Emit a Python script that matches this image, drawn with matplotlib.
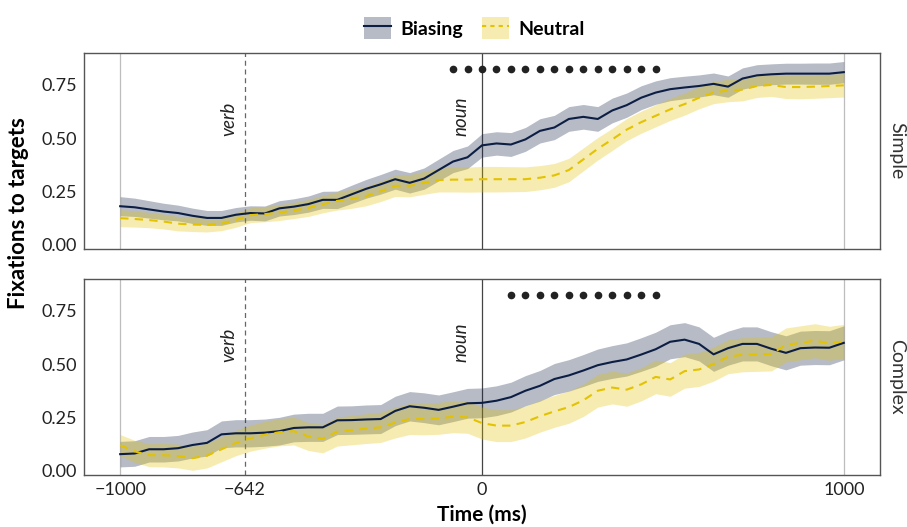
import numpy as np
import matplotlib
matplotlib.use("Agg")
from matplotlib import pyplot as plt
from matplotlib.patches import Patch
from matplotlib.lines import Line2D

plt.rcParams['font.family'] = ['Lato', 'DejaVu Sans']

# time grid (ms), 40 ms bins
time = np.arange(-1000, 1001, 40)

# Simple sentences
bias_simple = [0.18, 0.175, 0.165, 0.155, 0.148, 0.135, 0.125, 0.125, 0.14, 0.148,
               0.146, 0.17, 0.178, 0.19, 0.21, 0.21, 0.236, 0.262, 0.283, 0.307,
               0.29, 0.31, 0.35, 0.39, 0.41, 0.466, 0.475, 0.47, 0.494, 0.534,
               0.55, 0.59, 0.6, 0.59, 0.63, 0.655, 0.69, 0.714, 0.73, 0.738,
               0.745, 0.755, 0.742, 0.78, 0.795, 0.8, 0.803, 0.803, 0.803, 0.803, 0.81]
bias_simple_se = [0.045, 0.043, 0.041, 0.039, 0.037, 0.036, 0.035, 0.035, 0.034, 0.034,
                  0.035, 0.036, 0.037, 0.038, 0.040, 0.041, 0.043, 0.044, 0.046, 0.047,
                  0.048, 0.050, 0.051, 0.052, 0.053, 0.055, 0.055, 0.056, 0.056, 0.057,
                  0.057, 0.058, 0.058, 0.058, 0.058, 0.057, 0.056, 0.055, 0.054, 0.053,
                  0.052, 0.051, 0.050, 0.050, 0.050, 0.049, 0.049, 0.049, 0.050, 0.050, 0.050]
neutral_simple = [0.124, 0.12, 0.115, 0.108, 0.098, 0.094, 0.092, 0.098, 0.115, 0.138,
                  0.143, 0.15, 0.16, 0.172, 0.19, 0.205, 0.215, 0.228, 0.25, 0.276,
                  0.276, 0.29, 0.303, 0.305, 0.305, 0.307, 0.307, 0.307, 0.307, 0.314,
                  0.325, 0.35, 0.40, 0.45, 0.494, 0.54, 0.575, 0.605, 0.635, 0.66,
                  0.69, 0.714, 0.724, 0.728, 0.745, 0.75, 0.74, 0.74, 0.742, 0.745, 0.748]
neutral_simple_se = [0.040, 0.038, 0.036, 0.035, 0.034, 0.033, 0.033, 0.033, 0.034, 0.035,
                     0.036, 0.037, 0.038, 0.040, 0.041, 0.043, 0.045, 0.046, 0.048, 0.050,
                     0.052, 0.054, 0.056, 0.058, 0.059, 0.060, 0.060, 0.059, 0.058, 0.057,
                     0.056, 0.055, 0.054, 0.053, 0.052, 0.052, 0.052, 0.052, 0.052, 0.052,
                     0.052, 0.052, 0.053, 0.053, 0.054, 0.054, 0.054, 0.055, 0.055, 0.055, 0.055]

# Complex sentences
bias_complex = [0.077, 0.08, 0.1, 0.1, 0.105, 0.12, 0.13, 0.17, 0.175, 0.175,
                0.178, 0.185, 0.2, 0.203, 0.203, 0.236, 0.237, 0.24, 0.242, 0.28,
                0.302, 0.295, 0.285, 0.3, 0.316, 0.318, 0.328, 0.345, 0.375, 0.398,
                0.43, 0.447, 0.47, 0.495, 0.51, 0.522, 0.545, 0.57, 0.605, 0.615,
                0.595, 0.546, 0.575, 0.595, 0.595, 0.572, 0.553, 0.575, 0.578, 0.577, 0.60]
bias_complex_se = [0.060, 0.060, 0.060, 0.060, 0.060, 0.061, 0.062, 0.063, 0.064, 0.064,
                   0.064, 0.065, 0.065, 0.066, 0.066, 0.067, 0.067, 0.068, 0.068, 0.069,
                   0.069, 0.070, 0.070, 0.070, 0.070, 0.070, 0.070, 0.070, 0.071, 0.072,
                   0.073, 0.074, 0.075, 0.076, 0.077, 0.078, 0.079, 0.080, 0.080, 0.080,
                   0.080, 0.080, 0.080, 0.080, 0.080, 0.080, 0.080, 0.080, 0.080, 0.080, 0.080]
neutral_complex = [0.119, 0.09, 0.072, 0.072, 0.068, 0.058, 0.07, 0.1, 0.13, 0.152,
                   0.168, 0.18, 0.185, 0.16, 0.15, 0.183, 0.19, 0.197, 0.203, 0.225,
                   0.242, 0.242, 0.245, 0.253, 0.25, 0.223, 0.211, 0.211, 0.228, 0.255,
                   0.278, 0.298, 0.33, 0.375, 0.39, 0.38, 0.405, 0.44, 0.428, 0.467,
                   0.475, 0.5, 0.535, 0.544, 0.546, 0.548, 0.59, 0.60, 0.61, 0.598, 0.607]
neutral_complex_se = [0.050, 0.052, 0.054, 0.055, 0.056, 0.057, 0.058, 0.059, 0.060, 0.061,
                      0.063, 0.064, 0.065, 0.066, 0.067, 0.068, 0.069, 0.070, 0.071, 0.072,
                      0.073, 0.074, 0.075, 0.075, 0.075, 0.075, 0.075, 0.075, 0.075, 0.075,
                      0.075, 0.076, 0.076, 0.077, 0.077, 0.078, 0.078, 0.079, 0.079, 0.080,
                      0.080, 0.080, 0.080, 0.080, 0.080, 0.080, 0.080, 0.080, 0.080, 0.080, 0.080]

# time bins with a significant difference
sig_simple = [-80, -40, 0, 40, 80, 120, 160, 200, 240, 280, 320, 360, 400, 440, 480]
sig_complex = [80, 120, 160, 200, 240, 280, 320, 360, 400, 440, 480]
sig_y = 0.825

panels = ['Simple', 'Complex']
verb_pos = -655   # where the dashed verb line sits in the picture
xticks = [-1000, verb_pos, 0, 1000]
xticklabels = ['\u22121000', '\u2212642', '0', '1000']
yticks = [0.0, 0.25, 0.5, 0.75]

NAVY = '#0d1e44'
GOLD = '#e3c200'

data = {
    'Simple': (bias_simple, bias_simple_se, neutral_simple, neutral_simple_se, sig_simple),
    'Complex': (bias_complex, bias_complex_se, neutral_complex, neutral_complex_se, sig_complex),
}

fig = plt.figure(figsize=(9.07, 5.27), dpi=100)
W, H = 907, 527
left, right = 84 / W, 880 / W
ph = 196 / H
axes = [fig.add_axes([left, 1 - 249 / H, right - left, ph]),
        fig.add_axes([left, 1 - 475 / H, right - left, ph])]

for ax, name in zip(axes, panels):
    b, bse, n, nse, sig = data[name]
    b, bse, n, nse = map(np.array, (b, bse, n, nse))

    ax.axvline(-1000, color='#bdbdbd', lw=0.9, zorder=1)
    ax.axvline(1000, color='#bdbdbd', lw=0.9, zorder=1)
    ax.axvline(verb_pos, color='#666666', lw=0.9, ls=(0, (4, 3)), zorder=1)
    ax.axvline(0, color='#444444', lw=0.9, zorder=1)

    ax.fill_between(time, b - bse, b + bse, color=NAVY, alpha=0.3, lw=0, zorder=2)
    ax.fill_between(time, n - nse, n + nse, color=GOLD, alpha=0.3, lw=0, zorder=2)
    ax.plot(time, b, color=NAVY, lw=1.5, zorder=3)
    ax.plot(time, n, color=GOLD, lw=1.5, ls=(0, (4, 3)), zorder=3)

    ax.plot(sig, [sig_y] * len(sig), 'o', color='#222222', ms=4.5, zorder=4)

    ax.text(verb_pos - 22, 0.51, 'verb', rotation=90, style='italic', fontsize=13.5,
            color='#222222', ha='right', va='bottom')
    ax.text(-35, 0.51, 'noun', rotation=90, style='italic', fontsize=13.5,
            color='#222222', ha='right', va='bottom')

    ax.text(1.01, 0.5, name, transform=ax.transAxes, rotation=-90, fontsize=14,
            color='#333333', ha='left', va='center')

    ax.set_xlim(-1100, 1100)
    ax.set_ylim(-0.021, 0.90)
    ax.set_xticks(xticks)
    ax.set_yticks(yticks)
    ax.set_yticklabels(['%.2f' % v for v in yticks])
    ax.set_xticklabels(xticklabels)
    ax.tick_params(length=0, pad=5, labelsize=13, colors='#222222')
    for s in ax.spines.values():
        s.set_color('#555555')
        s.set_linewidth(1.0)

axes[0].tick_params(labelbottom=False)
axes[1].set_xlabel('Time (ms)', fontsize=15, fontweight='bold', labelpad=5)
fig.text(0.02, (1 - 213 / H), 'Fixations to targets', rotation=90, fontsize=16,
         fontweight='bold', ha='center', va='center')

h_b = (Patch(facecolor=NAVY, alpha=0.3, lw=0), Line2D([], [], color=NAVY, lw=1.5))
h_n = (Patch(facecolor=GOLD, alpha=0.3, lw=0), Line2D([], [], color=GOLD, lw=1.5, ls=(0, (2, 2))))
fig.legend([h_b, h_n], ['Biasing', 'Neutral'], loc='upper center', bbox_to_anchor=(0.523, 1.0),
           ncol=2, frameon=False, handlelength=1.4, handleheight=1.3, columnspacing=1.0,
           handletextpad=0.45, prop={'weight': 'bold', 'size': 14})

fig.savefig('out.png', dpi=100)
